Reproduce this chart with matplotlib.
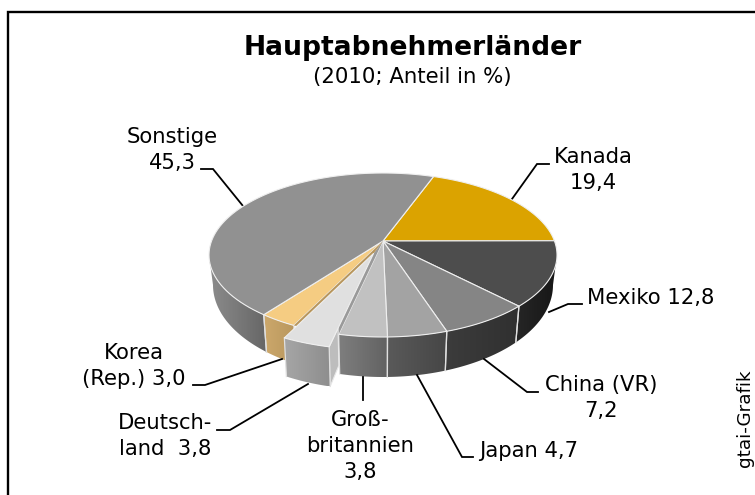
import matplotlib
matplotlib.use("Agg")
import matplotlib.pyplot as plt
import matplotlib.colors as mcolors
from matplotlib.patches import Polygon
import numpy as np

# Data
laender = ["Kanada", "Mexiko", "China (VR)", "Japan", "Großbritannien", "Deutschland", "Korea (Rep.)", "Sonstige"]
anteile = [19.4, 12.8, 7.2, 4.7, 3.8, 3.8, 3.0, 45.3]
farben = ["#DBA300", "#4D4D4D", "#858585", "#A3A3A3", "#C1C1C1", "#E0E0E0", "#F5CC82", "#919191"]
# side wall gradient, left to right as drawn
seite_links = ["#B88900", "#262626", "#3C3C3C", "#5A5A5A", "#7E7E7E", "#A6A6A6", "#CCA86C", "#8C8C8C"]
seite_rechts = ["#B88900", "#161616", "#303030", "#464646", "#626262", "#8E8E8E", "#B8965C", "#666666"]

titel = "Hauptabnehmerländer"
untertitel = "(2010; Anteil in %)"

# labels: text, x, y
labels = [
    ("Sonstige\n45,3", 172, 150),
    ("Kanada\n19,4", 593, 170),
    ("Mexiko 12,8", 651, 298),
    ("China (VR)\n7,2", 601, 398),
    ("Japan 4,7", 529, 451),
    ("Groß-\nbritannien\n3,8", 360, 446),
    ("Deutsch-\nland  3,8", 165, 436),
    ("Korea\n(Rep.) 3,0", 134, 366),
]
# leader lines in pixels
leader = [
    [(243, 206), (213, 169), (201, 169)],
    [(512, 199), (537, 164), (549, 164)],
    [(549, 312), (568, 304), (582, 304)],
    [(484, 359), (527, 392), (538, 392)],
    [(417, 375), (462, 457), (473, 457)],
    [(363, 377), (363, 400)],
    [(308, 384), (230, 430), (217, 430)],
    [(282, 359), (205, 385), (193, 385)],
]

# pie geometry in pixels, the hub sits above the ellipse centre (perspective)
cx, cy, rx, ry = 383.0, 255.0, 174.0, 82.0
cx_u, cy_u, rx_u, ry_u = 383.0, 285.0, 170.0, 92.0
e = 14.0 / 82.0
start = 70.0
explode = (-9.5, 12.5)
explode_idx = 5
# where the rim turns away from the viewer
rand_rechts = -np.degrees(np.arcsin(e))
rand_links = -180 - rand_rechts


def proj(theta, unten=False):
    t = np.radians(theta)
    x, y = np.cos(t), np.sin(t)
    yy = (y + e) / (1 + e * y)
    xx = x * np.sqrt(1 - e * e) / (1 + e * y)
    if unten:
        return cx_u + rx_u * xx, cy_u - ry_u * yy
    return cx + rx * xx, cy - ry * yy


fig = plt.figure(figsize=(7.55, 4.95), dpi=100)
ax = fig.add_axes([0, 0, 1, 1])
ax.axis("off")

# frame, only left and top are visible
ax.plot([8, 8, 755], [495, 11.5, 11.5], color="black", lw=1.7, solid_joinstyle="miter", zorder=1)

grenzen = [start]
for a in anteile:
    grenzen.append(grenzen[-1] - a * 3.6)


def seite(t1, t2, c1, c2, dx=0, dy=0, z=2):
    # outer wall: a horizontal gradient clipped to the wall outline
    th = np.linspace(t1, t2, 80)
    oben = np.array([proj(t) for t in th]) + (dx, dy)
    unten = np.array([proj(t, True) for t in th]) + (dx, dy)
    umriss = np.vstack([oben, unten[::-1]])
    c1, c2 = np.array(mcolors.to_rgb(c1)), np.array(mcolors.to_rgb(c2))
    grad = (c1 + (c2 - c1) * np.linspace(0, 1, 64)[:, None])[None, :, :]
    ext = (umriss[:, 0].min(), umriss[:, 0].max(), umriss[:, 1].max(), umriss[:, 1].min())
    im = ax.imshow(grad, extent=ext, aspect="auto", interpolation="bilinear", zorder=z)
    im.set_clip_path(Polygon(umriss, transform=ax.transData))
    # separators, not on the silhouette
    for t, p, q in [(t1, oben[0], unten[0]), (t2, oben[-1], unten[-1])]:
        if t in (rand_rechts, rand_links):
            continue
        ax.plot([p[0], q[0]], [p[1], q[1]], color="#E0E0E0", lw=0.9, zorder=z + 0.1)


def deckel(t1, t2, farbe, dx=0, dy=0, z=4):
    th = np.linspace(t1, t2, 80)
    rim = np.array([proj(t) for t in th]) + (dx, dy)
    nabe = np.array([cx + dx, cy - ry * e + dy])
    poly = np.vstack([nabe, rim, nabe])
    ax.fill(poly[:, 0], poly[:, 1], facecolor=farbe, edgecolor="#EFEFEF", lw=0.8, joinstyle="round", zorder=z)


# walls facing the viewer, Kanada and the back of Sonstige stay hidden
for i in range(1, len(anteile)):
    if i == explode_idx:
        continue
    t1 = min(grenzen[i], rand_rechts)
    t2 = max(grenzen[i + 1], rand_links)
    seite(t1, t2, seite_links[i], seite_rechts[i], z=2)

for i in range(len(anteile)):
    if i != explode_idx:
        deckel(grenzen[i], grenzen[i + 1], farben[i])

# gap left by the pulled out slice: inner walls of the two neighbours
hub = np.array([cx, cy - ry * e])
mitte = (grenzen[explode_idx] + grenzen[explode_idx + 1]) / 2
ra = np.array(proj(grenzen[explode_idx]))
rb = np.array(proj(grenzen[explode_idx + 1]))
rm = np.array(proj(mitte))
ax.fill(*zip(hub, ra, rm), facecolor="#9A9A9A", edgecolor="none", zorder=5)
ax.fill(*zip(hub, rm, rb), facecolor="#B8965C", edgecolor="none", zorder=5)

# pulled out slice, inner wall first (only its outer part shows), then outer wall and top
dx, dy = explode
f = 0.2
a_o = np.array(proj(grenzen[explode_idx])) + explode
a_u = np.array(proj(grenzen[explode_idx], True)) + explode
hub_o = hub + explode
hub_u = np.array([cx_u, cy_u - ry_u * e]) + explode
w = np.array([a_o, a_o + f * (hub_o - a_o), a_u + f * (hub_u - a_u), a_u])
ax.fill(w[:, 0], w[:, 1], facecolor="#BDBDBD", edgecolor="#E8E8E8", lw=0.8, zorder=6)
seite(grenzen[explode_idx], grenzen[explode_idx + 1], seite_links[explode_idx], seite_rechts[explode_idx], dx, dy, z=6.5)
deckel(grenzen[explode_idx], grenzen[explode_idx + 1], farben[explode_idx], dx, dy, z=7)

# leaders
for pts in leader:
    xs, ys = zip(*pts)
    ax.plot(xs, ys, color="black", lw=1.3, solid_joinstyle="miter", zorder=3)

ax.text(413, 48, titel, fontsize=19.1, fontweight="bold", ha="center", va="center", zorder=8)
ax.text(412, 77, untertitel, fontsize=15.3, ha="center", va="center", zorder=8)
for txt, x, y in labels:
    ax.text(x, y, txt, fontsize=15.2, ha="center", va="center", linespacing=1.36, zorder=8)
ax.text(745, 418, "gtai-Grafik", fontsize=13.2, rotation=90, ha="center", va="center", zorder=8)

ax.set_xlim(0, 755)
ax.set_ylim(495, 0)

fig.savefig("out.png", dpi=100)
